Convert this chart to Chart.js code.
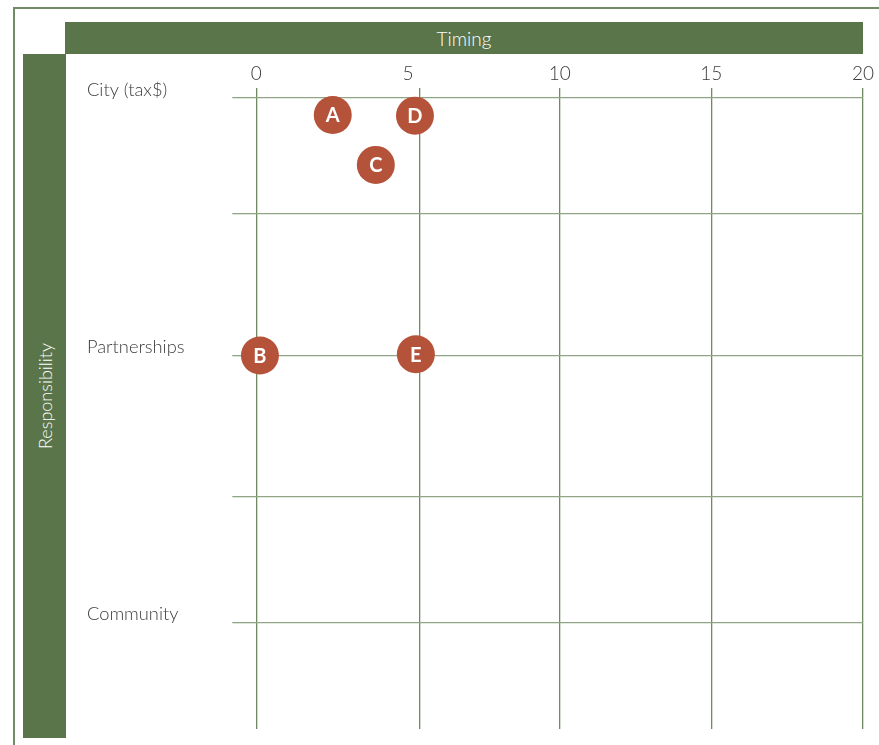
<!DOCTYPE html>
<html>
<head>
<meta charset="utf-8">
<script src="https://cdn.jsdelivr.net/npm/chart.js@4.4.1/dist/chart.umd.min.js"></script>
<style>
  html, body { margin: 0; background: #fff; overflow: hidden; font-family: Lato, "Open Sans", sans-serif; }
  #frame { position: absolute; left: 13px; top: 7px; right: 0; bottom: 0;
           border-top: 2px solid #718c63; border-left: 2px solid #718c63; }
  #timing { position: absolute; left: 65px; top: 22px; width: 798px; height: 32px;
            background: #5a754a; color: #fff; font-size: 19px; font-weight: 300;
            line-height: 34px; text-align: center; }
  #resp { position: absolute; left: 23px; top: 54px; width: 43px; height: 684px; background: #5a754a; }
  #resp span { position: absolute; left: 50%; top: 50%; color: #fff; font-size: 18px; font-weight: 300;
               white-space: nowrap; transform: translate(-50%, -50%) rotate(-90deg); }
  #wrap { position: absolute; left: 66px; top: 54px; width: 813px; height: 691px; }
</style>
</head>
<body>
<div id="frame"></div>
<div id="timing">Timing</div>
<div id="resp"><span>Responsibility</span></div>
<div id="wrap"><canvas id="chart"></canvas></div>
<script>
// data
const pointLabels = ['A', 'B', 'C', 'D', 'E'];
const timing = [2.52, 0.12, 3.94, 5.23, 5.26];
const responsibility = [97.3, 59.2, 89.4, 97.2, 59.4];

const rowLabels = ['City (tax$)', 'Partnerships', 'Community'];
const rowValues = [100, 59.2, 16.9];
const gridRows = [100, 81.6, 59.2, 36.9, 16.9];
const gridCols = [0, 5.37, 10, 15, 20];
const timingTicks = [0, 5, 10, 15, 20];

const dot = '#b5533a';
const textColor = '#3b3b3b';

// letters inside the dots
const letterPlugin = {
    id: 'letters',
    afterDatasetsDraw(chart) {
        const ctx = chart.ctx;
        const meta = chart.getDatasetMeta(0);
        ctx.save();
        ctx.fillStyle = '#fff';
        ctx.font = 'bold 20px Lato, sans-serif';
        ctx.textAlign = 'center';
        ctx.textBaseline = 'middle';
        meta.data.forEach((el, i) => {
            ctx.fillText(pointLabels[i], el.x, el.y + 1);
        });
        ctx.restore();
    }
};

const ctx = document.getElementById('chart').getContext('2d');
const chart = new Chart(ctx, {
    type: 'scatter',
    data: {
        datasets: [{
            data: timing.map((t, i) => ({ x: t, y: responsibility[i] })),
            backgroundColor: dot,
            borderWidth: 0,
            pointRadius: 19,
            pointHoverRadius: 19,
            clip: false
        }]
    },
    options: {
        responsive: true,
        maintainAspectRatio: false,
        animation: false,
        events: [],
        layout: { autoPadding: false, padding: { left: 21, top: 1, right: 16, bottom: 16 } },
        plugins: { legend: { display: false }, tooltip: { enabled: false } },
        scales: {
            x: {
                type: 'linear', position: 'top', min: 0, max: 20, weight: 0,
                border: { display: false },
                grid: { color: '#6f8963', lineWidth: 1.3, drawTicks: true, tickLength: 10 },
                ticks: { display: false },
                afterBuildTicks: s => { s.ticks = gridCols.map(v => ({ value: v })); },
                afterFit: s => { s.height = 10; }
            },
            xTicks: {
                type: 'linear', position: 'top', min: 0, max: 20, weight: 1,
                border: { display: false },
                grid: { display: false },
                ticks: { color: textColor, padding: -5, font: { family: 'Lato', size: 19, weight: 300 } },
                afterBuildTicks: s => { s.ticks = timingTicks.map(v => ({ value: v })); },
                afterFit: s => { s.height = 33; }
            },
            y: {
                type: 'linear', position: 'left', min: 0, max: 100, weight: 0,
                border: { display: false },
                grid: { color: '#8fa584', lineWidth: 1.3, drawTicks: true, tickLength: 24 },
                ticks: { display: false },
                afterBuildTicks: s => { s.ticks = gridRows.map(v => ({ value: v })); },
                afterFit: s => { s.width = 24; }
            },
            yTicks: {
                type: 'linear', position: 'left', min: 0, max: 100, weight: 1,
                border: { display: false },
                grid: { display: false },
                ticks: {
                    color: textColor, crossAlign: 'far', labelOffset: -8, padding: 0,
                    font: { family: 'Lato', size: 18.3, weight: 300 },
                    callback: (v, i) => rowLabels[i]
                },
                afterBuildTicks: s => { s.ticks = rowValues.map(v => ({ value: v })); },
                afterFit: s => { s.width = 145.3; }
            }
        }
    },
    plugins: [letterPlugin]
});
</script>
</body>
</html>
